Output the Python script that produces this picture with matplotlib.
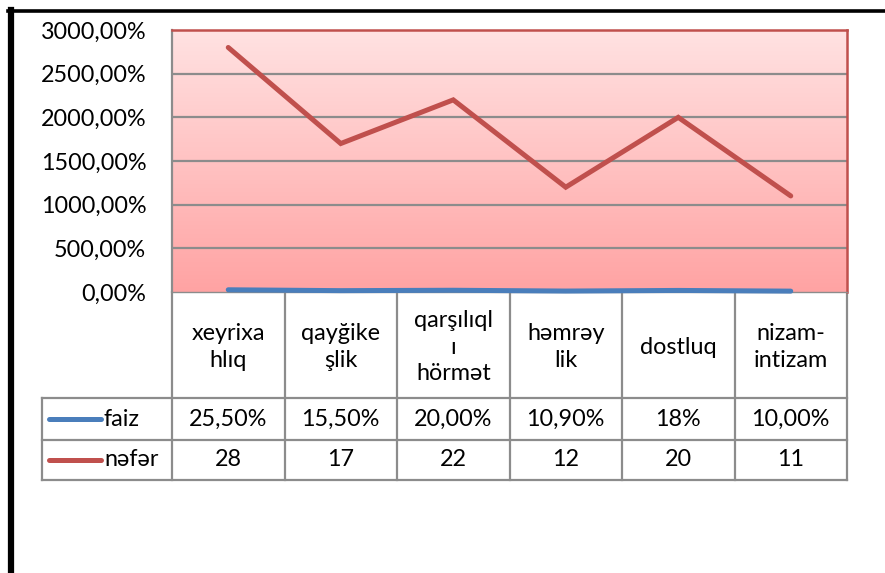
import matplotlib
matplotlib.use("Agg")
import matplotlib.pyplot as plt
import numpy as np
from matplotlib.colors import LinearSegmentedColormap
from matplotlib.lines import Line2D

plt.rcParams['font.family'] = ['Lato', 'DejaVu Sans']

categories = ["xeyrixa\nhlıq", "qayğike\nşlik", "qarşılıql\nı\nhörmət", "həmrəy\nlik", "dostluq", "nizam-\nintizam"]
faiz = [0.255, 0.155, 0.20, 0.109, 0.18, 0.10]
faiz_labels = ["25,50%", "15,50%", "20,00%", "10,90%", "18%", "10,00%"]
nefer = [28, 17, 22, 12, 20, 11]
series_names = ["faiz", "nəfər"]
yticks = [0, 5, 10, 15, 20, 25, 30]

W, H = 885, 573
fig = plt.figure(figsize=(W / 100, H / 100), dpi=100)

# plot area in pixels
L, R, T, B = 172, 847, 30, 292
ax = fig.add_axes([L / W, 1 - B / H, (R - L) / W, (B - T) / H])
x = np.arange(len(categories))
ax.set_xlim(-0.5, len(categories) - 0.5)
ax.set_ylim(0, 30)

# gradient background
cmap = LinearSegmentedColormap.from_list("g", ["#FFA3A3", "#FFE2E2"])
grad = np.linspace(0, 1, 256).reshape(-1, 1)
ax.imshow(grad, cmap=cmap, aspect="auto", extent=(-0.5, len(categories) - 0.5, 0, 30),
          origin="lower", zorder=0)

fs = 16.8
ax.set_yticks(yticks)
ax.set_yticklabels([f"{v*100:.2f}%".replace(".", ",") for v in yticks], fontsize=fs)
ax.tick_params(axis="y", length=0, pad=18.5)
ax.set_xticks([])
for v in yticks[1:-1]:
    ax.axhline(v, color="#8C8C8C", lw=1.6, zorder=1)

for s in ["top", "right"]:
    ax.spines[s].set_color("#C0504D")
    ax.spines[s].set_linewidth(1.8)
ax.spines["left"].set_color("#8C8C8C")
ax.spines["left"].set_linewidth(1.6)
ax.spines["bottom"].set_color("#8C8C8C")
ax.spines["bottom"].set_linewidth(1.0)

blue = "#4A7EBB"
red = "#C0504D"
ax.plot(x, faiz, color=blue, lw=3.6, solid_capstyle="round", zorder=3, clip_on=False)
ax.plot(x, nefer, color=red, lw=3.6, solid_capstyle="round", solid_joinstyle="miter", zorder=3)

# overlay for table and frame
ov = fig.add_axes([0, 0, 1, 1], zorder=-1)
ov.set_xlim(0, W)
ov.set_ylim(H, 0)
ov.axis("off")

# black frame
ov.add_line(Line2D([8, W], [11, 11], color="black", lw=2.6))
ov.add_line(Line2D([10.5, 10.5], [10, H], color="black", lw=4.5))

gc = "#8C8C8C"
cw = (R - L) / len(categories)
edges = [L + i * cw for i in range(len(categories) + 1)]
r0, r1, r2, r3 = B, 398, 440, 480
tleft = 42
glw = 1.6
# vertical lines
for e in edges:
    ov.add_line(Line2D([e, e], [r0, r3], color=gc, lw=glw))
ov.add_line(Line2D([tleft, tleft], [r1, r3], color=gc, lw=glw))
# horizontal lines
for yy in [r1, r2, r3]:
    ov.add_line(Line2D([tleft, R], [yy, yy], color=gc, lw=glw))

for i, c in enumerate(categories):
    cx = (edges[i] + edges[i + 1]) / 2
    ov.text(cx, (r0 + r1) / 2 + 2, c, ha="center", va="center", fontsize=fs,
            multialignment="center", linespacing=1.3)
    ov.text(cx, (r1 + r2) / 2, faiz_labels[i], ha="center", va="center", fontsize=fs)
    ov.text(cx, (r2 + r3) / 2, str(nefer[i]), ha="center", va="center", fontsize=fs)

for (ya, yb), name, col in [((r1, r2), series_names[0], blue), ((r2, r3), series_names[1], red)]:
    yc = (ya + yb) / 2
    ov.add_line(Line2D([49, 101], [yc, yc], color=col, lw=3.6, solid_capstyle="round"))
    ov.text(104, yc, name, ha="left", va="center", fontsize=fs)

fig.savefig("out.png", dpi=100)
